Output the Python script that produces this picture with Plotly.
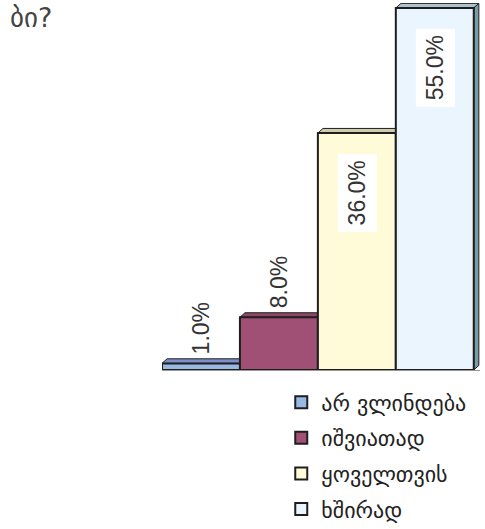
import plotly.graph_objects as go

categories = ["არ ვლინდება", "იშვიათად", "ყოველთვის", "ხშირად"]
values = [1.0, 8.0, 36.0, 55.0]
label_texts = ["1.0%", "8.0%", "36.0%", "55.0%"]
colors = ["#99B9E2", "#A05075", "#FFFAD8", "#EAF5FD"]
top_colors = ["#7C8FCB", "#8E4566", "#CFCBAE", "#A9C2CC"]
label_inside = [False, False, True, True]
title_text = "ბი?"

fig = go.Figure()
for i, (cat, v, c) in enumerate(zip(categories, values, colors)):
    fig.add_trace(go.Bar(
        x=[i], y=[v], name=cat, width=1,
        marker=dict(color=c, line=dict(color="#1e1e1e", width=2)),
        legendgroup=cat, hoverinfo="skip",
    ))

dx = 0.065
dy = 0.7
shapes = []
for i, (v, tc) in enumerate(zip(values, top_colors)):
    x0, x1 = i - 0.5, i + 0.5
    shapes.append(dict(
        type="path", xref="x", yref="y",
        path=f"M {x0},{v} L {x0+dx},{v+dy} L {x1+dx},{v+dy} L {x1},{v} Z",
        fillcolor=tc, line=dict(color="#1e1e1e", width=1), layer="below"))
# side face of the last bar
last = len(values) - 1
xr = last + 0.5
shapes.append(dict(
    type="path", xref="x", yref="y",
    path=f"M {xr},0 L {xr+dx},{dy} L {xr+dx},{values[last]+dy} L {xr},{values[last]} Z",
    fillcolor="#789DA8", line=dict(color="#1e1e1e", width=1), layer="below"))

label_font = dict(family="Liberation Sans, Arial", size=23, color="#333")
annotations = []
for i, (v, t, inside) in enumerate(zip(values, label_texts, label_inside)):
    if inside:
        annotations.append(dict(
            x=i, y=v, xref="x", yref="y", text=t, textangle=-90,
            showarrow=False, yanchor="top", yshift=-20,
            bgcolor="white", borderpad=6, font=label_font))
    else:
        annotations.append(dict(
            x=i, y=v, xref="x", yref="y", text=t, textangle=-90,
            showarrow=False, yanchor="bottom", yshift=7, font=label_font))
annotations.append(dict(
    x=0, y=1, xref="paper", yref="paper", xanchor="left", yanchor="top",
    text=title_text, showarrow=False, xshift=-154, yshift=3,
    font=dict(family="DejaVu Sans", size=27, color="#444")))

fig.update_layout(
    width=485, height=529,
    margin=dict(l=162, r=5, t=3, b=159, autoexpand=False),
    paper_bgcolor="white", plot_bgcolor="white",
    barmode="overlay",
    xaxis=dict(range=[-0.5, 3.58], showticklabels=False, showgrid=False,
               zeroline=False, showline=True, linecolor="#999", linewidth=1,
               ticks=""),
    yaxis=dict(range=[0, 55.76], visible=False),
    shapes=shapes,
    annotations=annotations,
    showlegend=True,
    legend=dict(x=0.375, y=-0.031, xanchor="left", yanchor="top",
                tracegroupgap=4, traceorder="grouped",
                font=dict(family="DejaVu Sans", size=22, color="#222"),
                itemwidth=30),
)

fig.write_html("out.html", config={"displayModeBar": False},
               post_script="document.body.style.margin='0';document.body.style.padding='0';")
